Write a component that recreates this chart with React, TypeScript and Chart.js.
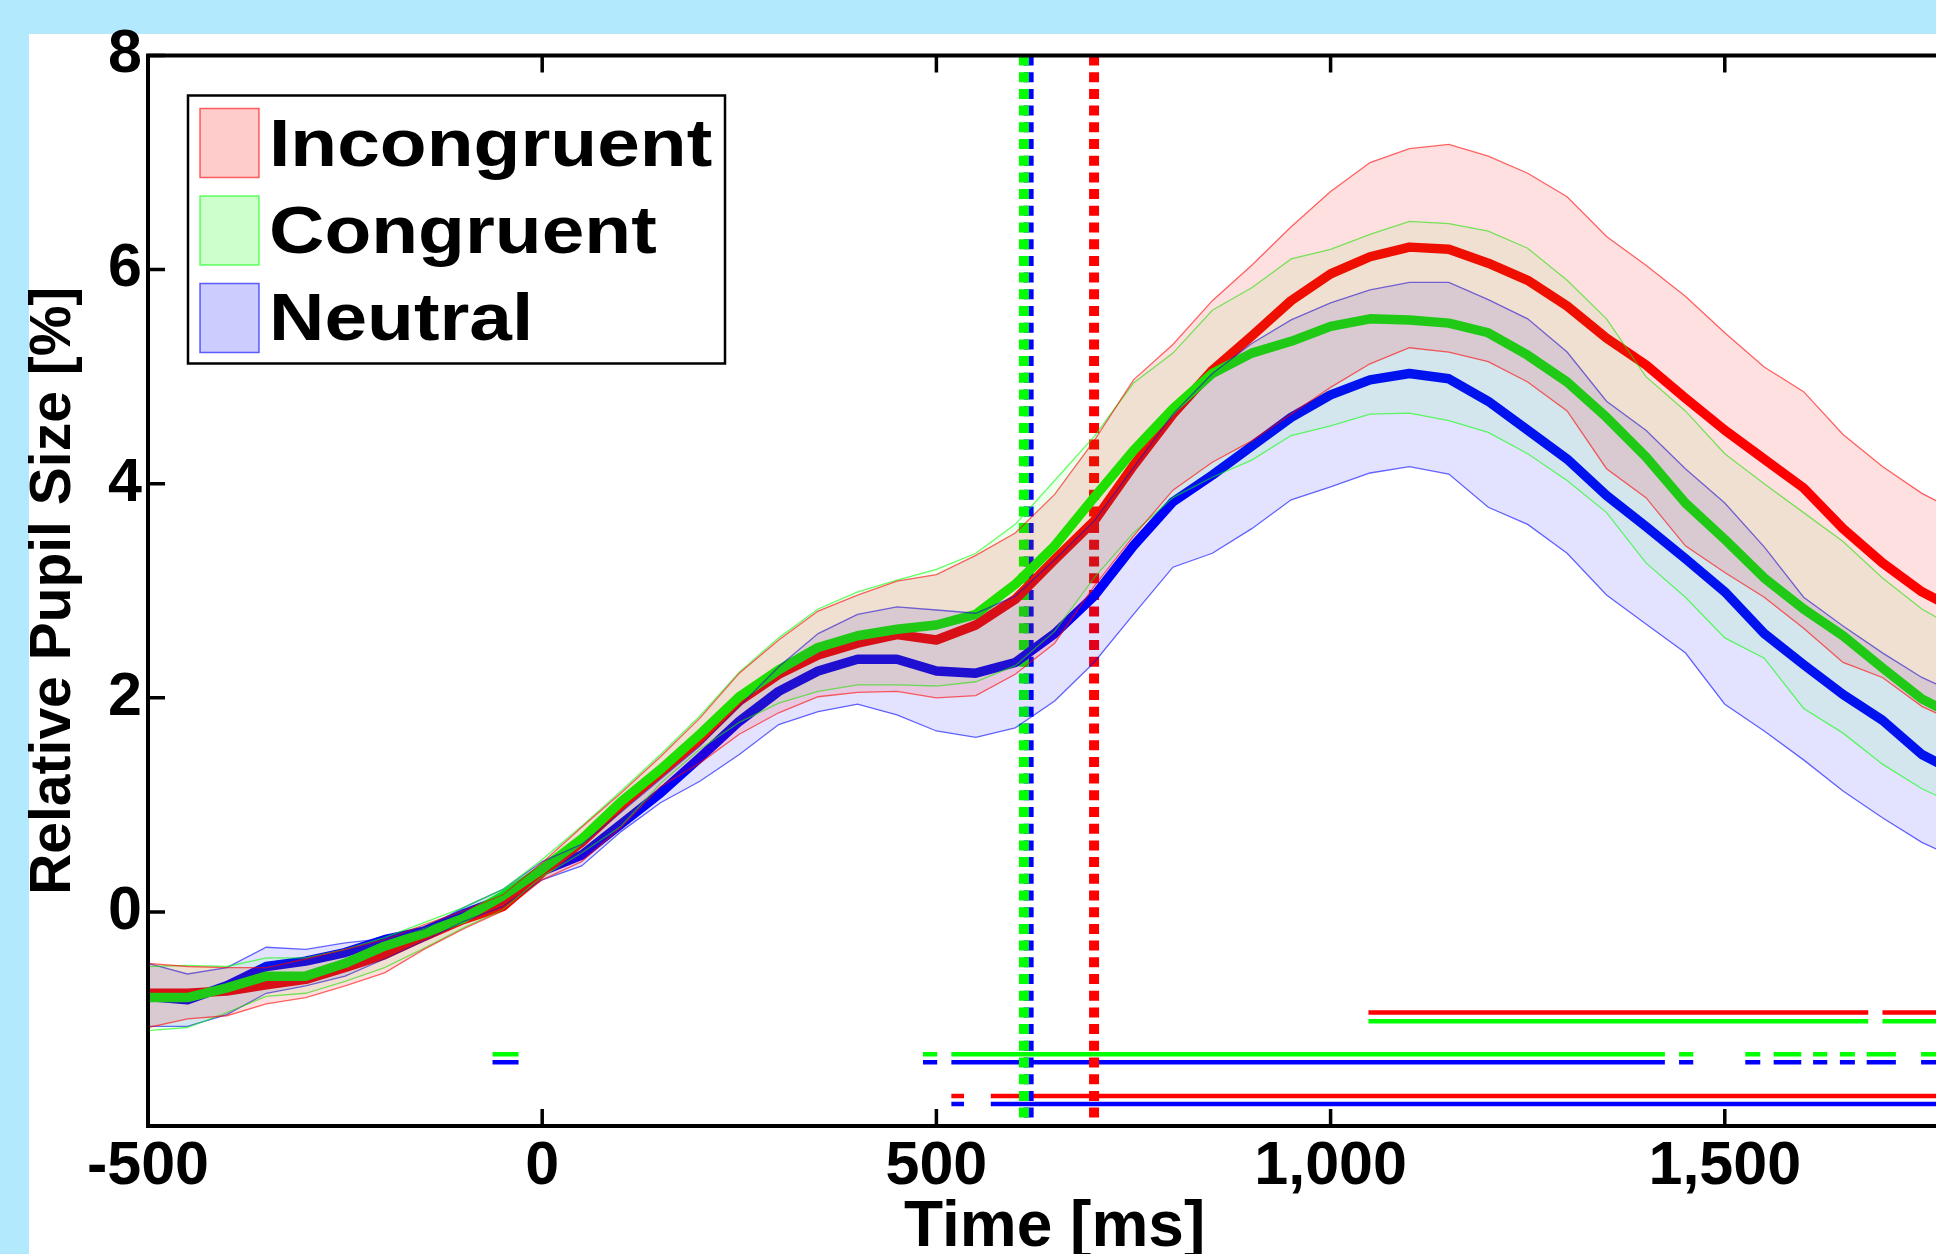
import React, { useEffect, useRef } from "react";
import Chart from "chart.js/auto";

// ---------------- data ----------------
const timeMs = [
  -500, -450, -400, -350, -300, -250, -200, -150, -100, -50, 0, 50, 100, 150, 200, 250, 300, 350, 400, 450, 500, 550,
  600, 650, 700, 750, 800, 850, 900, 950, 1000, 1050, 1100, 1150, 1200, 1250, 1300, 1350, 1400, 1450, 1500, 1550, 1600,
  1650, 1700, 1750, 1800,
];

const incongruentMean = [
  -0.76, -0.76, -0.74, -0.68, -0.63, -0.52, -0.4, -0.23, -0.07, 0.05, 0.37, 0.65, 0.99, 1.3, 1.61, 1.97, 2.22, 2.4, 2.51,
  2.59, 2.54, 2.68, 2.92, 3.29, 3.65, 4.17, 4.65, 5.06, 5.38, 5.71, 5.96, 6.12, 6.21, 6.19, 6.06, 5.9, 5.66, 5.36, 5.11,
  4.8, 4.5, 4.23, 3.96, 3.58, 3.26, 2.99, 2.8,
];
const incongruentUpper = [
  -0.48, -0.51, -0.52, -0.52, -0.44, -0.35, -0.26, -0.12, 0.01, 0.16, 0.46, 0.79, 1.11, 1.45, 1.81, 2.23, 2.54, 2.81,
  2.96, 3.09, 3.15, 3.33, 3.54, 3.9, 4.4, 4.97, 5.3, 5.71, 6.04, 6.4, 6.73, 7.0, 7.13, 7.17, 7.06, 6.9, 6.68, 6.31, 6.04,
  5.75, 5.41, 5.09, 4.86, 4.46, 4.16, 3.91, 3.72,
];
const incongruentLower = [
  -1.08, -1.0, -0.97, -0.86, -0.8, -0.69, -0.57, -0.35, -0.16, 0.01, 0.3, 0.47, 0.79, 1.17, 1.39, 1.66, 1.86, 2.01, 2.05,
  2.06, 2.0, 2.02, 2.22, 2.51, 3.04, 3.51, 3.94, 4.2, 4.4, 4.65, 4.9, 5.12, 5.27, 5.23, 5.14, 4.95, 4.68, 4.14, 3.87,
  3.42, 3.17, 2.94, 2.65, 2.33, 2.19, 1.92, 1.75,
];

const congruentMean = [
  -0.8, -0.8, -0.71, -0.6, -0.6, -0.48, -0.32, -0.2, -0.06, 0.15, 0.4, 0.68, 1.03, 1.33, 1.66, 2.01, 2.26, 2.47, 2.58,
  2.64, 2.68, 2.78, 3.06, 3.42, 3.87, 4.31, 4.7, 5.03, 5.22, 5.33, 5.47, 5.54, 5.53, 5.5, 5.41, 5.2, 4.95, 4.62, 4.25,
  3.82, 3.48, 3.12, 2.83, 2.58, 2.28, 1.99, 1.8,
];
const congruentUpper = [
  -0.51, -0.5, -0.51, -0.43, -0.43, -0.35, -0.24, -0.1, 0.04, 0.21, 0.49, 0.8, 1.13, 1.47, 1.83, 2.24, 2.56, 2.83, 2.99,
  3.1, 3.2, 3.35, 3.62, 4.03, 4.44, 4.94, 5.22, 5.62, 5.83, 6.1, 6.19, 6.33, 6.45, 6.43, 6.36, 6.2, 5.9, 5.54, 5.0, 4.68,
  4.28, 4.0, 3.73, 3.46, 3.12, 2.83, 2.62,
];
const congruentLower = [
  -1.11, -1.08, -0.94, -0.79, -0.76, -0.65, -0.52, -0.34, -0.15, 0.02, 0.33, 0.55, 0.8, 1.2, 1.52, 1.77, 1.95, 2.06, 2.12,
  2.12, 2.11, 2.15, 2.3, 2.62, 3.12, 3.54, 3.87, 4.06, 4.22, 4.45, 4.54, 4.65, 4.66, 4.59, 4.48, 4.28, 4.03, 3.73, 3.26,
  2.94, 2.56, 2.37, 1.9, 1.67, 1.38, 1.15, 0.98,
];

const neutralMean = [
  -0.79, -0.82, -0.69, -0.51, -0.46, -0.38, -0.26, -0.18, -0.02, 0.12, 0.38, 0.53, 0.82, 1.11, 1.44, 1.78, 2.06, 2.25,
  2.36, 2.36, 2.25, 2.23, 2.33, 2.6, 2.95, 3.42, 3.83, 4.08, 4.35, 4.62, 4.83, 4.97, 5.03, 4.98, 4.77, 4.5, 4.23, 3.89,
  3.6, 3.3, 2.99, 2.6, 2.31, 2.03, 1.79, 1.47, 1.28,
];
const neutralUpper = [
  -0.48, -0.58, -0.52, -0.33, -0.35, -0.29, -0.25, -0.16, 0.04, 0.21, 0.47, 0.63, 0.93, 1.24, 1.55, 1.92, 2.29, 2.6,
  2.78, 2.85, 2.82, 2.79, 2.95, 3.29, 3.65, 4.15, 4.65, 5.03, 5.31, 5.53, 5.69, 5.81, 5.88, 5.88, 5.72, 5.54, 5.23, 4.77,
  4.5, 4.14, 3.82, 3.41, 2.94, 2.67, 2.42, 2.19, 2.02,
];
const neutralLower = [
  -1.07, -1.07, -0.96, -0.76, -0.69, -0.6, -0.44, -0.27, -0.09, 0.05, 0.3, 0.43, 0.75, 1.02, 1.22, 1.47, 1.75, 1.87,
  1.94, 1.84, 1.69, 1.63, 1.72, 1.97, 2.33, 2.78, 3.22, 3.35, 3.58, 3.85, 3.97, 4.1, 4.16, 4.09, 3.78, 3.62, 3.35, 2.96,
  2.69, 2.42, 1.94, 1.69, 1.42, 1.13, 0.88, 0.65, 0.48,
];

// onset of divergence (vertical dotted lines), ms
const onsetIncongruent = 700;
const onsetCongruent = 611;
const onsetNeutral = 617;

// significant intervals (ms) for each pairwise comparison
const sigIncongruentVsCongruent = [
  [1048, 1682],
  [1700, 1800],
];
const sigCongruentVsNeutral = [
  [-63, -30],
  [483, 501],
  [519, 1424],
  [1442, 1460],
  [1526, 1545],
  [1562, 1597],
  [1612, 1630],
  [1646, 1665],
  [1680, 1717],
  [1749, 1800],
];
const sigIncongruentVsNeutral = [
  [519, 535],
  [569, 1800],
];

const legendLabels = ["Incongruent", "Congruent", "Neutral"];
const xTickValues = [-500, 0, 500, 1000, 1500];
const yTickValues = [-2, 0, 2, 4, 6, 8];

// ---------------- layout / style ----------------
const FONT = '"Liberation Sans", Arial, Helvetica, sans-serif';
const W = 2050;
const H = 1300;
const AREA_LEFT = 148;
const AREA_TOP = 55.5;
const AREA_BOTTOM = 1126;
const AREA_RIGHT = 1961.3;

const RED = "255,0,0";
const GREEN = "0,255,0";
const BLUE = "0,0,255";

// y levels (data units) of the significance bar rows
const sigRowLevels = [
  [-0.94, -1.022],
  [-1.33, -1.405],
  [-1.72, -1.795],
];

export default function App() {
  const ref = useRef<HTMLCanvasElement>(null);

  useEffect(() => {
    const canvas = ref.current;
    if (!canvas) return;

    const pts = (ys: number[]) => timeMs.map((t, i) => ({ x: t, y: ys[i] }));

    const band = (rgb: string, upper: number[], lower: number[], alpha: number) => [
      {
        data: pts(upper),
        borderColor: `rgba(${rgb},0.6)`,
        borderWidth: 1.3,
        backgroundColor: `rgba(${rgb},${alpha})`,
        fill: "+1",
        pointRadius: 0,
        tension: 0,
      },
      {
        data: pts(lower),
        borderColor: `rgba(${rgb},0.6)`,
        borderWidth: 1.3,
        fill: false,
        pointRadius: 0,
        tension: 0,
      },
    ];

    const meanLine = (rgb: string, ys: number[]) => ({
      data: pts(ys),
      borderColor: `rgb(${rgb})`,
      borderWidth: 9.5,
      fill: false,
      pointRadius: 0,
      tension: 0,
      borderJoinStyle: "round",
    });

    const onsetLine = (rgb: string, t: number) => ({
      data: [
        { x: t, y: 8 },
        { x: t, y: -2 },
      ],
      borderColor: `rgb(${rgb})`,
      borderWidth: 10,
      borderDash: [10, 6.7],
      borderCapStyle: "butt",
      fill: false,
      pointRadius: 0,
    });

    const segData = (segs: number[][], y: number) =>
      segs.flatMap(([s, e]) => [
        { x: s, y },
        { x: e, y },
        { x: e + 0.1, y: null },
      ]);

    const sigLine = (rgb: string, segs: number[][], y: number) => ({
      data: segData(segs, y),
      borderColor: `rgb(${rgb})`,
      borderWidth: 4.5,
      borderCapStyle: "butt",
      fill: false,
      pointRadius: 0,
      spanGaps: false,
    });

    const datasets: any[] = [
      ...band(RED, incongruentUpper, incongruentLower, 0.12),
      ...band(GREEN, congruentUpper, congruentLower, 0.07),
      ...band(BLUE, neutralUpper, neutralLower, 0.11),
      meanLine(GREEN, congruentMean),
      meanLine(RED, incongruentMean),
      meanLine(BLUE, neutralMean),
      onsetLine(RED, onsetIncongruent),
      onsetLine(GREEN, onsetCongruent),
      onsetLine(BLUE, onsetNeutral),
      sigLine(RED, sigIncongruentVsCongruent, sigRowLevels[0][0]),
      sigLine(GREEN, sigIncongruentVsCongruent, sigRowLevels[0][1]),
      sigLine(GREEN, sigCongruentVsNeutral, sigRowLevels[1][0]),
      sigLine(BLUE, sigCongruentVsNeutral, sigRowLevels[1][1]),
      sigLine(RED, sigIncongruentVsNeutral, sigRowLevels[2][0]),
      sigLine(BLUE, sigIncongruentVsNeutral, sigRowLevels[2][1]),
    ];

    const framePlugin = {
      id: "frame",
      afterDraw(chart: any) {
        const { ctx, chartArea: a, scales } = chart;
        ctx.save();
        ctx.strokeStyle = "#000";
        ctx.lineWidth = 3.5;
        const tl = 17;
        ctx.beginPath();
        xTickValues.forEach((v) => {
          const px = scales.x.getPixelForValue(v);
          ctx.moveTo(px, a.bottom);
          ctx.lineTo(px, a.bottom - tl);
          ctx.moveTo(px, a.top);
          ctx.lineTo(px, a.top + tl);
        });
        yTickValues.forEach((v) => {
          const py = scales.y.getPixelForValue(v);
          ctx.moveTo(a.left, py);
          ctx.lineTo(a.left + tl, py);
          ctx.moveTo(a.right, py);
          ctx.lineTo(a.right - tl, py);
        });
        ctx.stroke();
        ctx.lineWidth = 4;
        ctx.strokeRect(a.left, a.top, a.right - a.left, a.bottom - a.top);
        ctx.restore();
      },
    };

    const legendColors = [RED, GREEN, BLUE];
    const legendPlugin = {
      id: "boxLegend",
      afterDraw(chart: any) {
        const { ctx, chartArea: a } = chart;
        const bx = a.left + 40;
        const by = a.top + 40;
        const bw = 537;
        const bh = 268;
        ctx.save();
        ctx.fillStyle = "#fff";
        ctx.fillRect(bx, by, bw, bh);
        ctx.strokeStyle = "#000";
        ctx.lineWidth = 2.5;
        ctx.strokeRect(bx, by, bw, bh);
        legendLabels.forEach((label, i) => {
          const rgb = legendColors[i];
          const sy = by + 13 + i * 87.5;
          ctx.fillStyle = `rgba(${rgb},0.2)`;
          ctx.fillRect(bx + 12, sy, 59, 69);
          ctx.strokeStyle = `rgba(${rgb},0.6)`;
          ctx.lineWidth = 1.5;
          ctx.strokeRect(bx + 12, sy, 59, 69);
          ctx.save();
          ctx.translate(bx + 81, by + 70 + i * 87);
          ctx.scale(1.145, 1);
          ctx.fillStyle = "#000";
          ctx.font = `bold 67px ${FONT}`;
          ctx.textBaseline = "alphabetic";
          ctx.textAlign = "left";
          ctx.fillText(label, 0, 0);
          ctx.restore();
        });
        ctx.restore();
      },
    };

    const chart = new Chart(canvas, {
      type: "line",
      data: { datasets },
      options: {
        animation: false,
        responsive: false,
        maintainAspectRatio: false,
        events: [],
        layout: { padding: { top: AREA_TOP, right: W - AREA_RIGHT, bottom: 0, left: 0 } },
        plugins: { legend: { display: false }, tooltip: { enabled: false } },
        scales: {
          x: {
            type: "linear",
            min: -500,
            max: 1800,
            grid: { display: false, drawTicks: false },
            border: { display: false },
            afterBuildTicks: (s: any) => {
              s.ticks = xTickValues.map((v) => ({ value: v }));
            },
            ticks: {
              autoSkip: false,
              maxRotation: 0,
              padding: 5,
              color: "#000",
              font: { family: FONT, size: 61, weight: "bold" },
              callback: (v: any) => Number(v).toLocaleString("en-US"),
            },
            title: {
              display: true,
              text: "Time [ms]",
              color: "#000",
              font: { family: FONT, size: 64, weight: "bold" },
              padding: { top: 0, bottom: 33 },
            },
            afterFit: (s: any) => {
              s.height = H - AREA_BOTTOM;
              s.paddingLeft = 0;
              s.paddingRight = 0;
            },
          },
          y: {
            type: "linear",
            min: -2,
            max: 8,
            grid: { display: false, drawTicks: false },
            border: { display: false },
            afterBuildTicks: (s: any) => {
              s.ticks = yTickValues.map((v) => ({ value: v }));
            },
            ticks: {
              autoSkip: false,
              padding: 6,
              color: "#000",
              font: { family: FONT, size: 61, weight: "bold" },
              callback: (v: any) => (Number(v) === -2 ? "" : String(v)),
            },
            title: {
              display: true,
              text: "Relative Pupil Size [%]",
              color: "#000",
              font: { family: FONT, size: 57, weight: "bold" },
              padding: { top: 20, bottom: 0 },
            },
            afterFit: (s: any) => {
              s.width = AREA_LEFT;
              s.paddingTop = 0;
              s.paddingBottom = 0;
            },
          },
        },
      } as any,
      plugins: [framePlugin, legendPlugin],
    });

    return () => chart.destroy();
  }, []);

  return (
    <div
      style={{
        position: "fixed",
        left: 0,
        top: 0,
        width: 1936,
        height: 1254,
        overflow: "hidden",
        background: "#b3e9fc",
      }}
    >
      <div style={{ position: "absolute", left: 29, top: 34, right: 0, bottom: 0, background: "#fff" }} />
      <canvas
        ref={ref}
        width={W}
        height={H}
        style={{ position: "absolute", left: 0, top: 0, width: W, height: H }}
      />
    </div>
  );
}
